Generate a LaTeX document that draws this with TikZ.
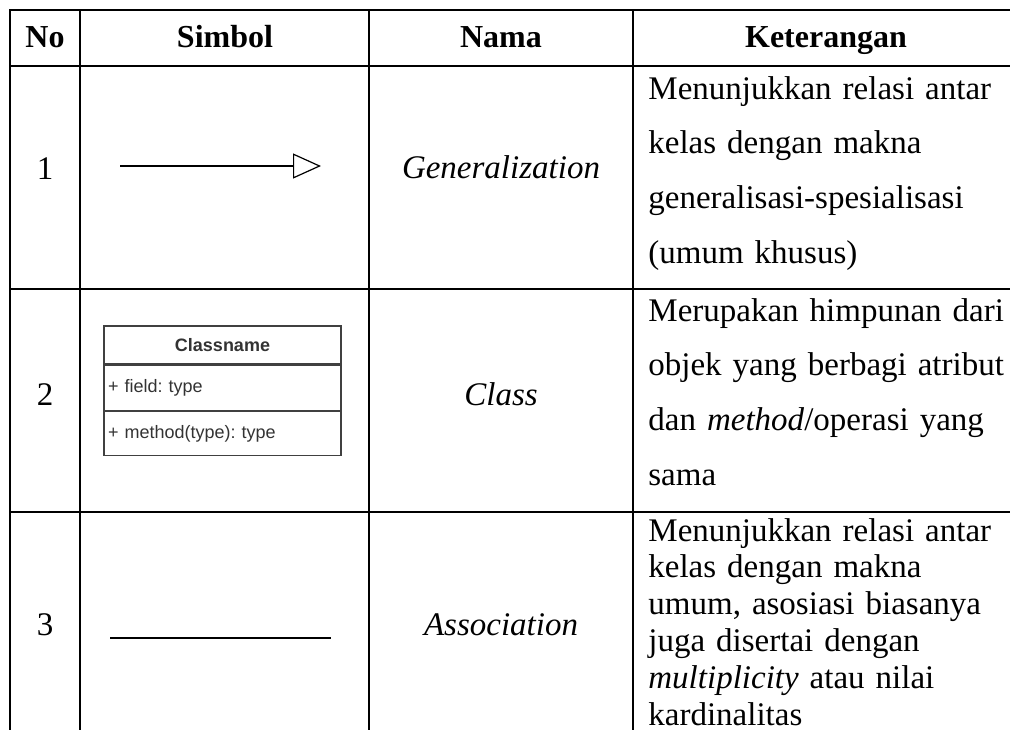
\documentclass[tikz,border=0pt]{standalone}
\usepackage{fontspec}
\setmainfont{Liberation Serif}
\newfontfamily\umlfont{Liberation Sans}
\usepackage{tikz}
\usetikzlibrary{arrows.meta, positioning}
\frenchspacing
\tikzset{%
	tableline/.style={line width=1.3pt, line cap=rect},
	head/.style={anchor=base, inner sep=0mm, font=\fontsize{16}{19}\selectfont\bfseries},
	num/.style={anchor=base, inner sep=0mm, font=\fontsize{16.5}{20}\selectfont},
	namecell/.style={anchor=base, inner sep=0mm, font=\fontsize{16.5}{20}\selectfont\itshape},
	desc/.style={anchor=base west, inner sep=0mm, text width=180pt, align=left,%
		font=\fontsize{16.5}{27.35}\selectfont},
	descsingle/.style={desc, font=\fontsize{16.5}{18.4}\selectfont},
	cls/.style={draw=black!75, line width=0.6pt, rectangle, minimum width=118.5pt,%
		inner sep=0mm, text=black!80, font=\umlfont\fontsize{9}{11}\selectfont},
	clspart/.style={cls, inner xsep=2pt, text width=114.5pt, align=left},
	gen/.style={line width=0.9pt, -{Triangle[open, length=14pt, width=12.5pt, line width=0.6pt]}},
	assoc/.style={line width=1.2pt}
}

\begin{document}
\begin{tikzpicture}[x=0.5pt, y=-0.5pt]
	\useasboundingbox (0,0) rectangle (1010,729);

	%table
	\foreach \x in {10,80,369,633}
		\draw [tableline] (\x,10) -- (\x,729);
	\foreach \y in {10,66,289,512}
		\draw [tableline] (10,\y) -- (1010,\y);

	%header
	\node [head] (hno) at (45,47) {No};
	\node [head] (hsym) at (225,47) {Simbol};
	\node [head] (hname) at (501,47) {Nama};
	\node [head] (hdesc) at (826,47) {Keterangan};

	%generalization
	\node [num] (n1) at (45,179) {1};
	\coordinate (g1) at (120,166);
	\coordinate (g2) at (321,166);
	\draw [gen] (g1) -- (g2);
	\node [namecell] (gen) at (501,178) {Generalization};
	\node [desc] (d1) at (648,99) {Menunjukkan relasi antar\\
		kelas dengan makna\\
		generalisasi-spesialisasi\\
		(umum khusus)};

	%class
	\node [num] (n2) at (45,405) {2};
	\node [cls, minimum height=19pt, font=\umlfont\fontsize{9}{11}\selectfont\bfseries] (cname) at (222.5,345) {Classname};
	\node [clspart, minimum height=22.5pt, below=0mm of cname] (cfield) {+ field: type};
	\node [clspart, minimum height=22pt, below=0mm of cfield] (cmethod) {+ method(type): type};
	\node [namecell] (cls) at (501,405) {Class};
	\node [desc] (d2) at (648,321) {Merupakan himpunan dari\\
		objek yang berbagi atribut\\
		dan \textit{method}/operasi yang\\
		sama};

	%association
	\node [num] (n3) at (45,635) {3};
	\coordinate (a1) at (110,638);
	\coordinate (a2) at (331,638);
	\draw [assoc] (a1) -- (a2);
	\node [namecell] (assoc) at (501,635) {Association};
	\node [descsingle] (d3) at (648,541) {Menunjukkan relasi antar\\
		kelas dengan makna\\
		umum, asosiasi biasanya\\
		juga disertai dengan\\
		\textit{multiplicity} atau nilai\\
		kardinalitas};
\end{tikzpicture}
\end{document}
